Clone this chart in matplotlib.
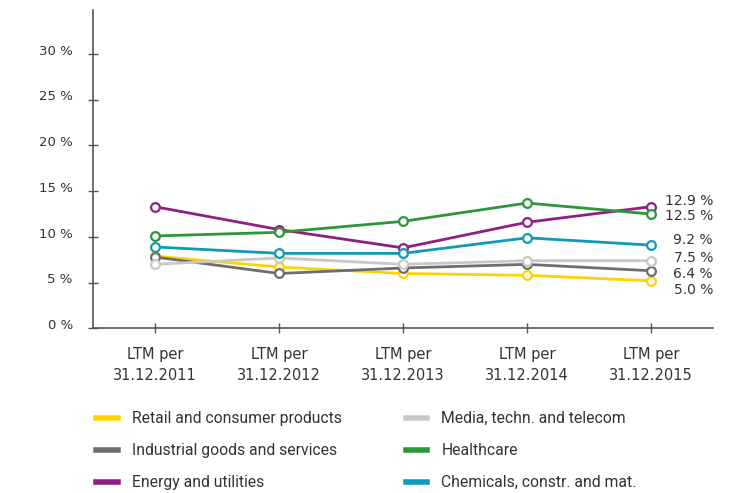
import matplotlib.pyplot as plt
from matplotlib.lines import Line2D
import matplotlib.transforms as mtransforms

# categories and series (in %)
periods = ["LTM per\n31.12.2011", "LTM per\n31.12.2012", "LTM per\n31.12.2013",
           "LTM per\n31.12.2014", "LTM per\n31.12.2015"]

retail = [7.9, 6.7, 6.0, 5.8, 5.2]
industrial = [7.8, 6.0, 6.6, 7.0, 6.3]
energy = [13.3, 10.8, 8.8, 11.6, 13.3]
media = [7.0, 7.7, 7.0, 7.4, 7.4]
healthcare = [10.1, 10.5, 11.7, 13.7, 12.5]
chemicals = [8.9, 8.2, 8.2, 9.9, 9.1]

names = ["Retail and consumer products", "Industrial goods and services", "Energy and utilities",
         "Media, techn. and telecom", "Healthcare", "Chemicals, constr. and mat."]
series = [retail, industrial, energy, media, healthcare, chemicals]
end_labels = ["5.0 %", "6.4 %", "12.9 %", "7.5 %", "12.5 %", "9.2 %"]
yticks = [0, 5, 10, 15, 20, 25, 30]

colors = ["#FFD300", "#6E6E6E", "#8E1F83", "#C8C8C8", "#2E963A", "#0F9AB8"]
# vertical nudge of the end labels (points, positive = up) so they don't collide
label_nudge = [-6.3, -2.4, 3.8, 2.2, -1.2, 3.8]
draw_order = [3, 0, 1, 5, 4, 2]

text_color = "#333333"
axis_color = "#555555"

fig = plt.figure(figsize=(7.48, 4.93), dpi=100)
ax = fig.add_axes([0.1243, 0.3339, 0.8289, 0.6458])

x = list(range(len(periods)))
for i in draw_order:
    ax.plot(x, series[i], color=colors[i], lw=2, marker='o', ms=6.3,
            mfc='white', mec=colors[i], mew=1.6, zorder=3 + i * 0.1, clip_on=False)
    ax.annotate(end_labels[i], xy=(4.5, series[i][-1]), xytext=(0, label_nudge[i]),
                textcoords='offset points', ha='right', va='center',
                fontsize=10, color=text_color)

ax.set_xlim(-0.5, 4.5)
ax.set_ylim(0, 34.8)
ax.set_xticks(x)
ax.set_xticklabels(periods, fontsize=10.5, color=text_color, linespacing=1.45)
ax.set_yticks(yticks)
ax.set_yticklabels([f"{v} %" for v in yticks], fontsize=9.5, color=text_color)

for s in ["top", "right"]:
    ax.spines[s].set_visible(False)
for s in ["left", "bottom"]:
    ax.spines[s].set_color(axis_color)
    ax.spines[s].set_linewidth(1.2)

ax.tick_params(axis='both', direction='inout', length=7, width=1, color=axis_color)
ax.tick_params(axis='y', pad=11)
ax.tick_params(axis='x', pad=10)

# y tick labels sit a little above their ticks
shift = mtransforms.ScaledTranslation(0, 3 / 72, fig.dpi_scale_trans)
for lab in ax.get_yticklabels():
    lab.set_transform(lab.get_transform() + shift)

# legend: two columns of three
handles = [Line2D([0], [0], color=c, lw=4) for c in colors]
for col, xpos in enumerate([0.129, 0.543]):
    lg = fig.legend(handles[col * 3:col * 3 + 3], names[col * 3:col * 3 + 3],
                    loc='upper left', bbox_to_anchor=(xpos, 0.166), frameon=False,
                    borderpad=0, borderaxespad=0, handlelength=1.35, handletextpad=0.9,
                    labelspacing=1.08, prop={'family': 'Roboto', 'size': 11.3})
    for t in lg.get_texts():
        t.set_color(text_color)

fig.savefig("out.png", dpi=100)
